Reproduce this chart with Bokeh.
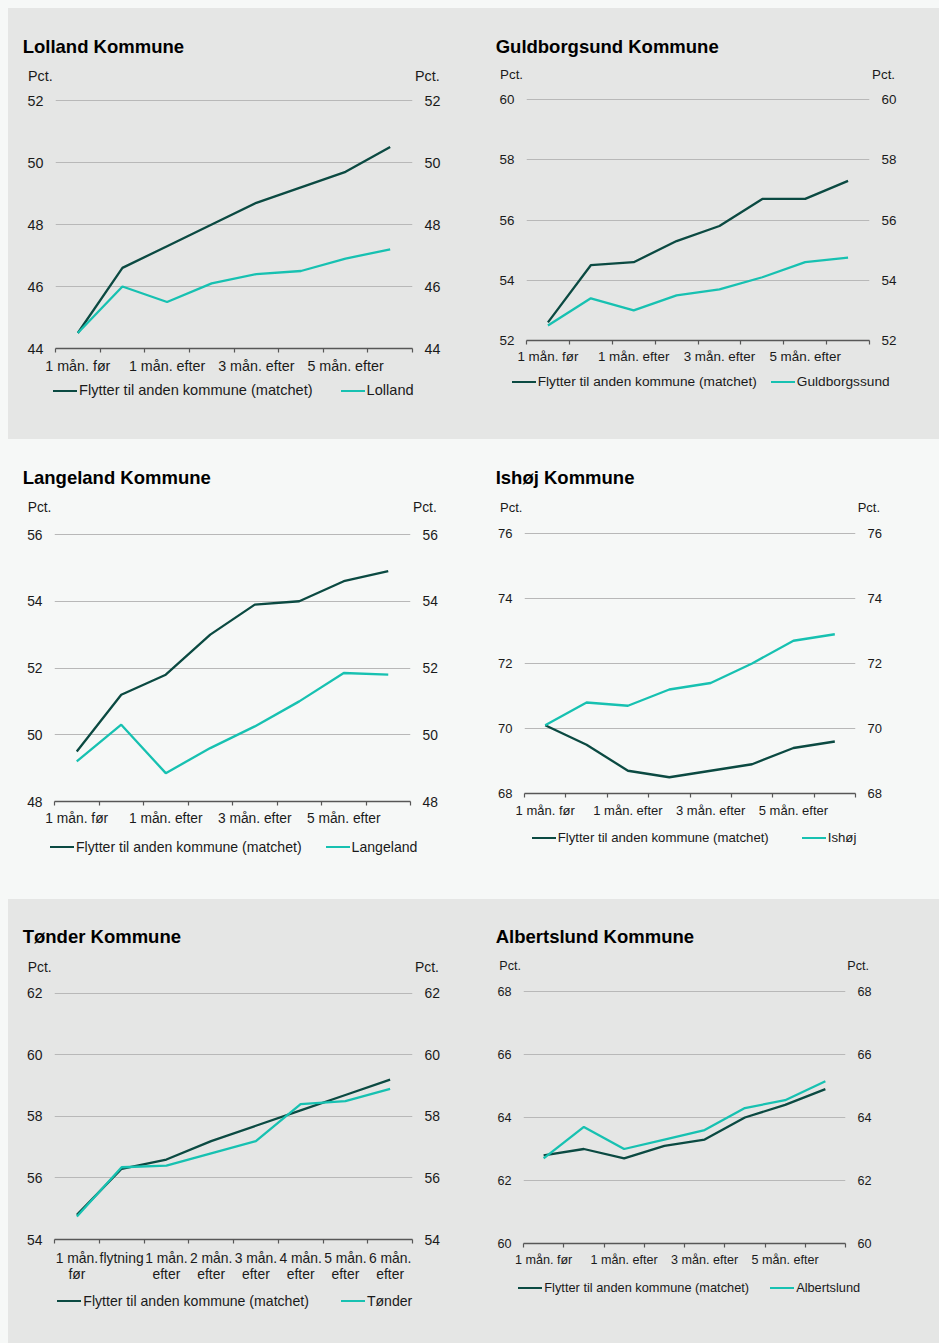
from bokeh.plotting import figure
from bokeh.layouts import row, column
from bokeh.models import Range1d, LinearAxis, FixedTicker, Div
from bokeh.embed import file_html
from bokeh.resources import INLINE

# ---------------- data ----------------
categories = ["1 mån. før", "flytning", "1 mån. efter", "2 mån. efter",
              "3 mån. efter", "4 mån. efter", "5 mån. efter", "6 mån. efter"]

lolland_matchet = [44.5, 46.6, 47.3, 48.0, 48.7, 49.2, 49.7, 50.5]
lolland_kommune = [44.5, 46.0, 45.5, 46.1, 46.4, 46.5, 46.9, 47.2]
guldborgsund_matchet = [52.6, 54.5, 54.6, 55.3, 55.8, 56.7, 56.7, 57.3]
guldborgsund_kommune = [52.5, 53.4, 53.0, 53.5, 53.7, 54.1, 54.6, 54.75]
langeland_matchet = [49.5, 51.2, 51.8, 53.0, 53.9, 54.0, 54.6, 54.9]
langeland_kommune = [49.2, 50.3, 48.85, 49.6, 50.25, 51.0, 51.85, 51.8]
ishoj_matchet = [70.1, 69.5, 68.7, 68.5, 68.7, 68.9, 69.4, 69.6]
ishoj_kommune = [70.1, 70.8, 70.7, 71.2, 71.4, 72.0, 72.7, 72.9]
tonder_matchet = [54.8, 56.3, 56.6, 57.2, 57.7, 58.2, 58.7, 59.2]
tonder_kommune = [54.75, 56.35, 56.4, 56.8, 57.2, 58.4, 58.5, 58.9]
albertslund_matchet = [62.8, 63.0, 62.7, 63.1, 63.3, 64.0, 64.4, 64.9]
albertslund_kommune = [62.7, 63.7, 63.0, 63.3, 63.6, 64.3, 64.55, 65.15]

titles = ["Lolland Kommune", "Guldborgsund Kommune", "Langeland Kommune",
          "Ishøj Kommune", "Tønder Kommune", "Albertslund Kommune"]
legend_matchet = "Flytter til anden kommune (matchet)"
legend_names = ["Lolland", "Guldborgssund", "Langeland", "Ishøj", "Tønder", "Albertslund"]
y_ticks = [[44, 46, 48, 50, 52], [52, 54, 56, 58, 60], [48, 50, 52, 54, 56],
           [68, 70, 72, 74, 76], [54, 56, 58, 60, 62], [60, 62, 64, 66, 68]]
y_unit = "Pct."

series_matchet = [lolland_matchet, guldborgsund_matchet, langeland_matchet,
                  ishoj_matchet, tonder_matchet, albertslund_matchet]
series_kommune = [lolland_kommune, guldborgsund_kommune, langeland_kommune,
                  ishoj_kommune, tonder_kommune, albertslund_kommune]

# ---------------- style / layout ----------------
GRAY = "#e5e6e5"
LIGHT = "#f6f8f7"
DARK = "#0b4a42"
TEAL = "#17c1b1"
GRID = "#b8b8b8"
AXIS = "#575757"
TXT = "#1a1a1a"
FONT = "Liberation Sans"
TOP_PAD = 12

# box: fig_left, fig_top, width, height, min_border l, r, t, b  (page coordinates)
layout_spec = [
    dict(box=(8, 8, 462, 431, 47, 58, 92, 91), bg=GRAY, fs=14.3, lfs=14.6, bb=28, so=5,
         title=(22.7, 53.3), pct_l=(28, 76), pct_r=415, leg=(53, 390.7, 28), all_labels=False),
    dict(box=(470, 8, 461, 431, 56, 62, 91, 99), bg=GRAY, fs=13.4, lfs=13.7, bb=28, so=4,
         title=(495.7, 53.3), pct_l=(500, 75), pct_r=872, leg=(511.7, 381.7, 14), all_labels=False),
    dict(box=(8, 439, 462, 460, 46, 60, 95, 98), bg=LIGHT, fs=13.8, lfs=14.1, bb=28, so=5,
         title=(22.7, 485), pct_l=(27.7, 508.3), pct_r=413, leg=(50, 847.3, 24), all_labels=False),
    dict(box=(470, 439, 461, 460, 54, 76, 94, 106), bg=LIGHT, fs=13.0, lfs=13.2, bb=28, so=5,
         title=(495.7, 485), pct_l=(500, 507.7), pct_r=857.7, leg=(531.7, 838.3, 33), all_labels=False),
    dict(box=(8, 899, 462, 436, 46, 58, 94, 94), bg=GRAY, fs=13.9, lfs=14.1, bb=44, so=6,
         title=(22.7, 944), pct_l=(27.7, 967.7), pct_r=415, leg=(57.3, 1301, 32), all_labels=True),
    dict(box=(470, 899, 461, 436, 53, 86, 92, 92), bg=GRAY, fs=12.6, lfs=12.8, bb=28, so=5,
         title=(495.7, 944), pct_l=(499.3, 966.7), pct_r=847.3, leg=(518.3, 1287.7, 21), all_labels=False),
]

BASE = "position:absolute;white-space:nowrap;font-family:'%s';" % FONT


def header(i):
    spec = layout_spec[i]
    fl, ft, w, h, mbl, mbr, mbt, mbb = spec["box"]
    fs = spec["fs"]
    hh = mbt - TOP_PAD
    tx, ty = spec["title"]
    px, py = spec["pct_l"]
    items = [
        '<div style="%sleft:%.1fpx;top:%.1fpx;font-size:18.5px;line-height:18.5px;'
        'font-weight:bold;color:#000;">%s</div>' % (BASE, tx - fl, ty - ft - 0.8465 * 18.5, titles[i]),
        '<div style="%sleft:%.1fpx;top:%.1fpx;font-size:%spx;line-height:%spx;color:%s;">%s</div>'
        % (BASE, px - fl, py - ft - fs / 2, fs, fs, TXT, y_unit),
        '<div style="%sleft:%.1fpx;top:%.1fpx;font-size:%spx;line-height:%spx;color:%s;">%s</div>'
        % (BASE, spec["pct_r"] - fl, py - ft - fs / 2, fs, fs, TXT, y_unit),
    ]
    html = '<div style="position:relative;width:%dpx;height:%dpx;">%s</div>' % (w, hh, "".join(items))
    return Div(text=html, width=w, height=hh, margin=0,
               styles={"background-color": spec["bg"], "overflow": "visible"})


def legend_div(i):
    spec = layout_spec[i]
    fl, ft, w, h, mbl, mbr, mbt, mbb = spec["box"]
    lfs = spec["lfs"]
    lh = mbb - spec["bb"]
    gx, gy, gsp = spec["leg"]
    cy = gy - (ft + h - lh)
    sample = ('<span style="display:inline-block;width:24px;height:2px;background:%s;'
              'margin-right:2px;flex:none;"></span>')
    inner = (sample % DARK + '<span>%s</span>' % legend_matchet +
             '<span style="display:inline-block;width:%.1fpx;flex:none;"></span>' % gsp +
             sample % TEAL + '<span>%s</span>' % legend_names[i])
    box = ('<div style="%sleft:%.1fpx;top:%.1fpx;height:20px;display:flex;align-items:center;'
           'font-size:%spx;color:%s;">%s</div>' % (BASE, gx - fl, cy - 10, lfs, TXT, inner))
    html = '<div style="position:relative;width:%dpx;height:%dpx;">%s</div>' % (w, lh, box)
    return Div(text=html, width=w, height=lh, margin=0,
               styles={"background-color": spec["bg"], "overflow": "visible"})


def make_panel(i):
    spec = layout_spec[i]
    fl, ft, w, h, mbl, mbr, mbt, mbb = spec["box"]
    bg = spec["bg"]
    fs = spec["fs"]
    yt = y_ticks[i]
    n = len(categories)
    hh = mbt - TOP_PAD
    lh = mbb - spec["bb"]
    frame_h = h - mbt - mbb
    span = yt[-1] - yt[0]
    # one extra pixel above the top gridline so that it is not clipped by the frame
    y_end = yt[-1] + span / frame_h

    p = figure(width=w, height=h - hh - lh, x_range=Range1d(0, n), y_range=Range1d(yt[0], y_end),
               output_backend="svg", toolbar_location=None, title=None,
               min_border_left=mbl, min_border_right=mbr, min_border_top=TOP_PAD - 1,
               min_border_bottom=spec["bb"], background_fill_color=bg, border_fill_color=bg,
               outline_line_color=None, margin=0)

    xs = [k + 0.5 for k in range(n)]
    if spec["all_labels"]:
        shown = list(range(n))
        labels = {xs[k]: categories[k].replace(". ", ".\n", 1) for k in shown}
    else:
        shown = list(range(0, n, 2))
        labels = {xs[k]: categories[k] for k in shown}

    ax = p.xaxis[0]
    ax.ticker = FixedTicker(ticks=[xs[k] for k in shown], minor_ticks=list(range(n + 1)))
    ax.major_label_overrides = labels
    ax.major_tick_out = 0
    ax.major_tick_in = 0
    ax.major_tick_line_color = None
    ax.minor_tick_out = 4
    ax.minor_tick_in = 0
    ax.minor_tick_line_color = AXIS
    ax.minor_tick_line_width = 1.2
    ax.axis_line_color = AXIS
    ax.axis_line_width = 1.3
    ax.major_label_text_font = FONT
    ax.major_label_text_font_size = f"{fs}px"
    ax.major_label_text_color = TXT
    ax.major_label_standoff = int(spec["so"])
    ax.major_label_text_line_height = 1.05

    def style_y(a):
        a.ticker = FixedTicker(ticks=yt)
        a.axis_line_color = None
        a.major_tick_line_color = None
        a.minor_tick_line_color = None
        a.major_tick_out = 0
        a.major_tick_in = 0
        a.minor_tick_out = 0
        a.minor_tick_in = 0
        a.major_label_standoff = 12
        a.major_label_text_font = FONT
        a.major_label_text_font_size = f"{fs}px"
        a.major_label_text_color = TXT

    style_y(p.yaxis[0])
    right = LinearAxis()
    style_y(right)
    p.add_layout(right, "right")

    p.xgrid.visible = False
    p.ygrid.ticker = FixedTicker(ticks=yt)
    p.ygrid.grid_line_color = GRID
    p.ygrid.grid_line_width = 1.2

    p.line(xs, series_matchet[i], line_color=DARK, line_width=2.3)
    p.line(xs, series_kommune[i], line_color=TEAL, line_width=2.3)

    return column(header(i), p, legend_div(i), spacing=0, margin=0, styles={"background-color": bg})


panels = [make_panel(i) for i in range(6)]
row_style_top = {"background-color": GRAY, "box-shadow": "8px 0 0 0 %s" % GRAY}
row_style_mid = {"background-color": LIGHT}
row_style_bot = {"background-color": GRAY,
                 "box-shadow": "8px 0 0 0 %s, 0 8px 0 0 %s, 8px 8px 0 0 %s" % (GRAY, GRAY, GRAY)}
layout = column(row(panels[0], panels[1], styles=row_style_top, spacing=0),
                row(panels[2], panels[3], styles=row_style_mid, spacing=0),
                row(panels[4], panels[5], styles=row_style_bot, spacing=0), spacing=0)

html = file_html(layout, INLINE, title="Flytninger")
css = ("<style>html, body {background-color:%s !important;} "
       "body {padding:8px !important; box-sizing:border-box !important;}</style>" % LIGHT)
html = html.replace("</head>", css + "</head>", 1)
open("out.html", "w").write(html)
